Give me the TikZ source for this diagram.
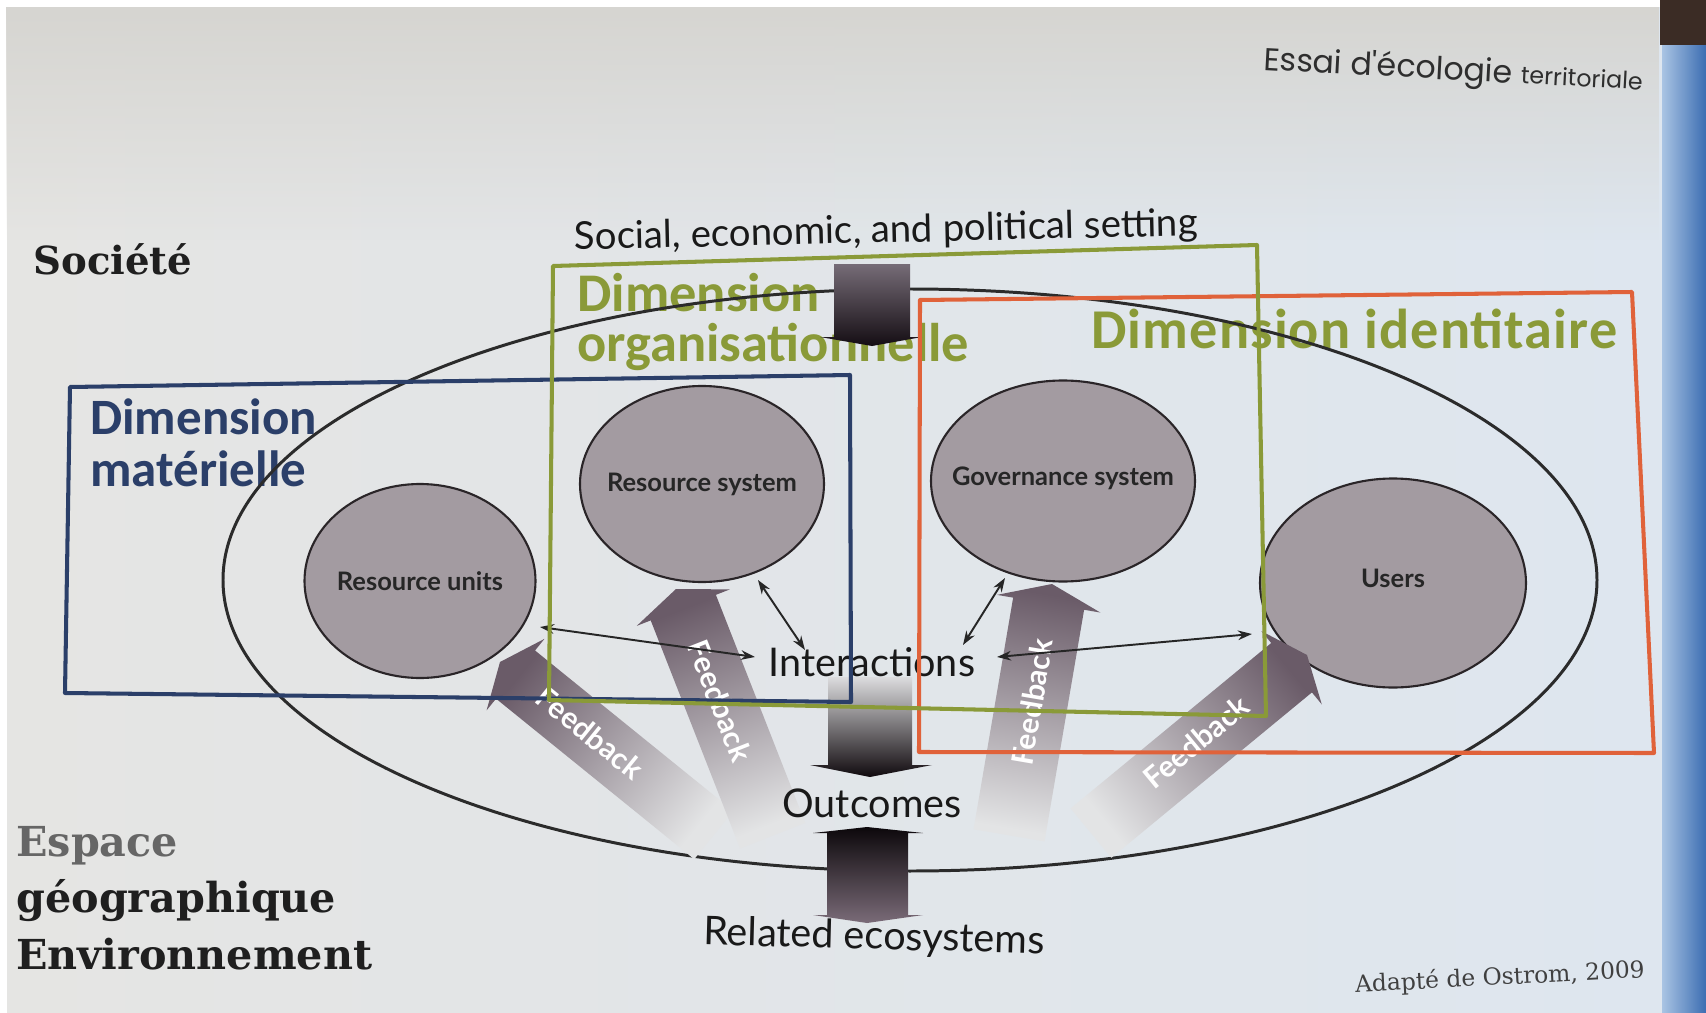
\documentclass[tikz,border=0pt]{standalone}
\usepackage{fontspec}
\setmainfont{DejaVu Serif}
\newfontfamily\gillf{Lato}
\newfontfamily\calif{Carlito}
\newfontfamily\geof{Poppins}
\usetikzlibrary{arrows.meta,shapes.geometric,fadings}
\definecolor{dimgreen}{HTML}{8A9A38}
\definecolor{dimblue}{HTML}{2B3F69}
\definecolor{dimorange}{HTML}{E0623A}
\definecolor{circfill}{HTML}{A39BA1}
\definecolor{circedge}{HTML}{2A2528}
\definecolor{fbdark}{HTML}{6A5B68}
\definecolor{fbbase}{HTML}{E3E4E5}
\definecolor{pageleft}{HTML}{E5E5E3}
\definecolor{pageright}{HTML}{DEE6EF}
\definecolor{pagetop}{HTML}{D6D5D1}
\definecolor{stripl}{HTML}{A9C4E3}
\definecolor{stripr}{HTML}{3C6DB2}
\definecolor{cornerdark}{HTML}{3B2C25}
\definecolor{ellcol}{HTML}{2B2B2B}
\definecolor{atopA}{HTML}{766C77}
\definecolor{abotA}{HTML}{140D13}
\definecolor{atopB}{HTML}{DCDCDE}
\definecolor{amidB}{HTML}{5A4C58}
\definecolor{abotB}{HTML}{100A0E}
\definecolor{atopC}{HTML}{0C080B}
\definecolor{abotC}{HTML}{7A6B78}
\newcommand{\fs}[2]{\fontsize{#1pt}{#2pt}\selectfont}
\newcommand{\fbarrow}[7]{%
  \begin{scope}[shift={(#1,#2)}, rotate=#3, x=0.2mm, y=0.2mm]
    \shade[top color=fbdark, bottom color=fbbase, shading angle=#7]
      (0,0) -- (-20,#6/2) -- (-20,#5/2) -- (-#4,#5/2) -- (-#4,-#5/2) -- (-20,-#5/2) -- (-20,-#6/2) -- cycle;
  \end{scope}}
\tikzset{
  circ/.style={ellipse, draw=circedge, line width=1.2pt, fill=circfill, inner sep=0pt},
  circlab/.style={font=\gillf\bfseries\fs{14.5}{17}, text=black!85, inner sep=0pt},
  fbtext/.style={text=white, font=\gillf\bfseries\fs{17}{20}, inner sep=0pt},
  thinarrow/.style={<->, >={Stealth[length=8pt,width=5.5pt]}, line width=1.1pt, draw=black!85},
  boxline/.style={line width=2.3pt, line join=round},
  bigtxt/.style={font=\gillf\fs{22.5}{27}, text=black!90, inner sep=0pt},
}
\begin{document}
\begin{tikzpicture}[x=0.2mm, y=-0.2mm]
\useasboundingbox (0,0) rectangle (1706,1013);
% background page
\fill[white] (0,0) rectangle (1706,1013);
\shade[left color=pageleft, right color=pageright] (7,7) rectangle (1662,1013);
\fill[pagetop, path fading=south] (7,7) rectangle (1662,240);
\shade[left color=stripl, right color=stripr] (1662,0) rectangle (1706,1013);
\fill[cornerdark] (1660,0) rectangle (1706,45);

% header and source
\node[anchor=base west, inner sep=0, rotate=-3, text=black!82] (hdr) at (1263,70)
  {\geof\fs{18}{20}Essai d'écologie \fs{13.5}{16}territoriale};
\node[rotate=3, inner sep=0, font=\fs{13.3}{15}, text=black!75] (src) at (1500,978) {Adapté de Ostrom, 2009};

% side labels
\node[anchor=west, inner sep=0, font=\bfseries\fs{22}{27}, text=black!88] (soc) at (33,259) {Société};
\node[anchor=west, inner sep=0, align=left, font=\bfseries\fs{23.5}{32}, text=black!88] (geo) at (16,898)
  {\textcolor{black!60}{Espace}\\géographique\\Environnement};

% top text
\node[inner sep=0, rotate=1.3, font=\gillf\fs{21.8}{24}, text=black!90] (social) at (886,232) {Social, economic, and political setting};

% dimension labels
\node[anchor=west, inner sep=0, align=left, font=\calif\bfseries\fs{31}{28}, text=dimgreen] (dorg) at (577,322) {Dimension\\organisationnelle};
\node[anchor=west, inner sep=0, font=\calif\bfseries\addfontfeatures{LetterSpace=2}\fs{32}{36}, text=dimgreen] (did) at (1091,329) {Dimension identitaire};
\node[anchor=west, inner sep=0, align=left, font=\calif\bfseries\fs{29}{29.6}, text=dimblue] (dmat) at (90,443) {Dimension\\matérielle};

% big ellipse
\draw[line width=1.7pt, draw=ellcol] (910,580) ellipse [x radius=687, y radius=291];

% circles
\node[circ, minimum width=231*0.2mm, minimum height=194*0.2mm] (ru) at (420,581) {};
\node[circ, minimum width=244*0.2mm, minimum height=196*0.2mm] (rs) at (702,484) {};
\node[circ, minimum width=264*0.2mm, minimum height=201*0.2mm] (gs) at (1063,481) {};
\node[circ, minimum width=266*0.2mm, minimum height=209*0.2mm] (us) at (1393,583) {};
\node[circlab] (rul) at (ru.center) {Resource units};
\node[circlab] (rsl) at (rs.center) {Resource system};
\node[circlab] (gsl) at ([yshift=0.6mm]gs.center) {Governance system};
\node[circlab] (usl) at ([yshift=1mm]us.center) {Users};

% feedback arrows
\fbarrow{500}{662}{141}{275}{62}{92}{51}
\fbarrow{676}{589}{111.4}{265}{70}{100}{21.4}
\fbarrow{1052}{584}{80.3}{255}{72}{105}{-9.7}
\fbarrow{1307}{655}{39.5}{280}{64}{95}{-50.5}
\node[fbtext, rotate=-39] (fb1) at (590,733) {Feedback};
\node[fbtext, rotate=-68.6] (fb2) at (720,701) {Feedback};
\node[fbtext, rotate=80.3] (fb3) at (1032,702) {Feedback};
\node[fbtext, rotate=39.5] (fb4) at (1196,742) {Feedback};

% central texts
\node[bigtxt] (inter) at (872,662) {Interactions};
\node[bigtxt] (outc) at (872,803) {Outcomes};
\node[bigtxt, rotate=-1.5] (relat) at (874,938) {Related ecosystems};

% vertical block arrows
\shade[top color=atopA, bottom color=abotA]
  (834,264) -- (910,264) -- (910,337) -- (922,337) -- (872,346) -- (820,337) -- (834,337) -- cycle;
\shade[top color=atopB, middle color=amidB, bottom color=abotB]
  (828,677) -- (912,677) -- (912,765) -- (932,765) -- (870,777) -- (810,765) -- (828,765) -- cycle;
\shade[top color=atopC, bottom color=abotC]
  (867,827) -- (923,833) -- (908,833) -- (908,915) -- (923,915) -- (867,923) -- (813,915)
  -- (827,915) -- (827,833) -- (813,833) -- cycle;

% interaction connectors
\coordinate (c1a) at (540,627); \coordinate (c1b) at (755,657);
\coordinate (c2a) at (758,580); \coordinate (c2b) at (805,650);
\coordinate (c3a) at (1005,578); \coordinate (c3b) at (963,645);
\coordinate (c4a) at (997,657); \coordinate (c4b) at (1252,634);
\draw[thinarrow] (c1a) -- (c1b);
\draw[thinarrow] (c2a) -- (c2b);
\draw[thinarrow] (c3a) -- (c3b);
\draw[thinarrow] (c4a) -- (c4b);

% dimension boxes
\draw[boxline, dimblue] (70,387) -- (850,375) -- (851,702) -- (65,693) -- cycle;
\draw[boxline, dimorange] (920,300) -- (1632,292) -- (1654,753) -- (919,752) -- cycle;
\draw[boxline, dimgreen] (553,266) -- (1257,245) -- (1266,716) -- (549,700) -- cycle;
\end{tikzpicture}
\end{document}
